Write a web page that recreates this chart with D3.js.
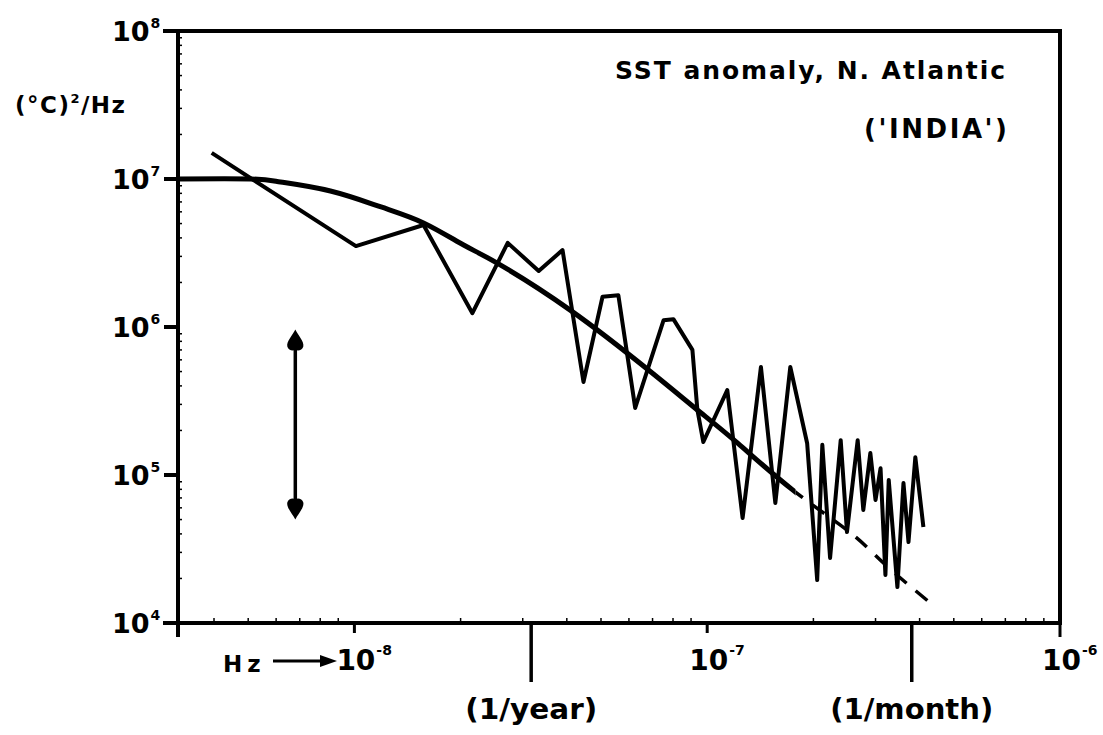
<!DOCTYPE html>
<html>
<head>
<meta charset="utf-8">
<script src="https://cdn.jsdelivr.net/npm/d3@7"></script>
<style>
  body { margin: 0; background: #fff; }
  svg text { font-family: "DejaVu Sans", "Liberation Sans", sans-serif; font-weight: bold; fill: #000; }
</style>
</head>
<body>
<svg id="spec" width="1103" height="735"></svg>
<script>
// observed spectrum (Hz, (degC)^2/Hz)
var freqObs = [3.94e-9, 1.01e-8, 1.57e-8, 2.16e-8, 2.72e-8, 3.33e-8, 3.89e-8, 4.46e-8, 5.05e-8, 5.60e-8,
    6.25e-8, 7.52e-8, 8.02e-8, 9.08e-8, 9.38e-8, 9.75e-8, 1.14e-7, 1.26e-7, 1.42e-7, 1.56e-7,
    1.72e-7, 1.92e-7, 2.05e-7, 2.12e-7, 2.23e-7, 2.39e-7, 2.49e-7, 2.67e-7, 2.77e-7, 2.90e-7,
    3.00e-7, 3.10e-7, 3.20e-7, 3.27e-7, 3.46e-7, 3.60e-7, 3.72e-7, 3.89e-7, 4.10e-7];
var specObs = [1.50e7, 3.52e6, 4.89e6, 1.24e6, 3.70e6, 2.39e6, 3.31e6, 4.25e5, 1.60e6, 1.64e6,
    2.84e5, 1.11e6, 1.13e6, 7.00e5, 2.75e5, 1.67e5, 3.75e5, 5.12e4, 5.37e5, 6.47e4,
    5.37e5, 1.64e5, 1.95e4, 1.60e5, 2.75e4, 1.72e5, 4.12e4, 1.72e5, 5.81e4, 1.41e5,
    6.78e4, 1.11e5, 2.11e4, 9.25e4, 1.75e4, 8.83e4, 3.52e4, 1.32e5, 4.46e4];

// model (red noise) curve, drawn solid up to solidEnd Hz, dashed after
var freqModel = [3.17e-9, 5.07e-9, 6.17e-9, 8.55e-9, 1.19e-8, 1.57e-8, 2.04e-8, 2.54e-8, 4.09e-8, 6.90e-8,
    9.38e-8, 1.22e-7, 1.75e-7, 2.55e-7, 3.16e-7, 4.30e-7];
var specModel = [1.0e7, 1.0e7, 9.55e6, 8.30e6, 6.47e6, 5.05e6, 3.58e6, 2.70e6, 1.30e6, 5.0e5,
    2.75e5, 1.64e5, 7.9e4, 4.06e4, 2.54e4, 1.36e4];
var solidEnd = 1.78e-7;

// confidence interval arrow
var errFreq = 6.8e-9;
var errRange = [9.6e5, 5.0e4];

var yMajor = [1e4, 1e5, 1e6, 1e7, 1e8];
var yExp = ["4", "5", "6", "7", "8"];
var xMajor = [1e-8, 1e-7, 1e-6];
var xExp = ["-8", "-7", "-6"];
var periodTicks = [3.17e-8, 3.8e-7];
var periodLabels = ["(1/year)", "(1/month)"];
var periodWidths = [132, 163];

var svg = d3.select("#spec");

var x = d3.scaleLog().domain([Math.pow(10, -8.5), 1e-6]).range([178, 1060]);
var y = d3.scaleLog().domain([1e4, 1e8]).range([623, 31]);

var ink = "#000";
var g = svg.append("g");

// frame
g.append("path")
    .attr("d", "M" + 163 + "," + y(1e8) + "H" + x(1e-6) + "V" + y(1e4) + "H" + 163
        + "M" + x.range()[0] + "," + y(1e8) + "V" + (y(1e4) + 14))
    .attr("fill", "none")
    .attr("stroke", ink)
    .attr("stroke-width", 4);

// y ticks
g.selectAll(".ymaj").data(yMajor).enter().append("line")
    .attr("x1", 164).attr("x2", 178)
    .attr("y1", function (d) { return y(d); }).attr("y2", function (d) { return y(d); })
    .attr("stroke", ink).attr("stroke-width", 4);

var yMinor = y.ticks().filter(function (d) { return yMajor.indexOf(d) < 0; });
g.selectAll(".ymin").data(yMinor).enter().append("line")
    .attr("x1", 178).attr("x2", 182)
    .attr("y1", function (d) { return y(d); }).attr("y2", function (d) { return y(d); })
    .attr("stroke", ink).attr("stroke-width", 1.5);

var xMinor = x.ticks().filter(function (d) {
    var l = Math.log10(d);
    return Math.abs(l - Math.round(l)) > 1e-6;
});
g.selectAll(".xmin").data(xMinor).enter().append("line")
    .attr("x1", function (d) { return x(d); }).attr("x2", function (d) { return x(d); })
    .attr("y1", 623).attr("y2", 618)
    .attr("stroke", ink).attr("stroke-width", 1.5);

g.selectAll(".xmaj").data(xMajor).enter().append("line")
    .attr("x1", function (d) { return x(d); }).attr("x2", function (d) { return x(d); })
    .attr("y1", 623).attr("y2", function (d, i) { return i == 2 ? 637 : 633; })
    .attr("stroke", ink).attr("stroke-width", 3);

g.selectAll(".xper").data(periodTicks).enter().append("line")
    .attr("x1", function (d) { return x(d); }).attr("x2", function (d) { return x(d); })
    .attr("y1", 623).attr("y2", 682)
    .attr("stroke", ink).attr("stroke-width", 3.5);

// y labels
var yl = g.selectAll(".ylab").data(yMajor).enter().append("text")
    .attr("x", 112)
    .attr("y", function (d) { return y(d) + 10; })
    .style("font-size", "27px");
yl.append("tspan").text("10");
yl.append("tspan").text(function (d, i) { return yExp[i]; })
    .attr("dx", 1).attr("dy", -13).style("font-size", "14px");

// x labels
var xl = g.selectAll(".xlab").data(xMajor).enter().append("text")
    .attr("x", function (d) { return x(d) - 18; })
    .attr("y", 670)
    .style("font-size", "28px");
xl.append("tspan").text("10");
xl.append("tspan").text(function (d, i) { return xExp[i]; })
    .attr("dx", 1).attr("dy", -15).style("font-size", "14px");

g.selectAll(".plab").data(periodTicks).enter().append("text")
    .attr("x", function (d) { return x(d); })
    .attr("y", 719)
    .attr("text-anchor", "middle")
    .style("font-size", "28px")
    .attr("textLength", function (d, i) { return periodWidths[i]; })
    .attr("lengthAdjust", "spacingAndGlyphs")
    .text(function (d, i) { return periodLabels[i]; });

// Hz ---> label
g.append("text").attr("x", 223).attr("y", 672).style("font-size", "23px")
    .style("letter-spacing", "5px").text("Hz");
g.append("line").attr("x1", 273).attr("x2", 322).attr("y1", 661).attr("y2", 661)
    .attr("stroke", ink).attr("stroke-width", 3);
g.append("path").attr("d", "M337,661L320,655L320,667Z").attr("fill", ink);

// axis title
var yt = g.append("text").attr("x", 15).attr("y", 113).style("font-size", "23px")
    .style("letter-spacing", "1.5px");
yt.append("tspan").text("(°C)");
yt.append("tspan").text("2").attr("dy", -10).style("font-size", "13px");
yt.append("tspan").text("/Hz").attr("dy", 10);

// panel title
g.append("text").attr("x", 1005).attr("y", 79).attr("text-anchor", "end")
    .style("font-size", "25px").attr("textLength", 390).attr("lengthAdjust", "spacing")
    .text("SST anomaly, N. Atlantic");
g.append("text").attr("x", 1007).attr("y", 138).attr("text-anchor", "end")
    .style("font-size", "26px").attr("textLength", 143).attr("lengthAdjust", "spacing")
    .text("('INDIA')");

// data lines
var line = d3.line()
    .x(function (d) { return x(d[0]); })
    .y(function (d) { return y(d[1]); });

var obs = d3.zip(freqObs, specObs);
g.append("path").datum(obs)
    .attr("d", line)
    .attr("fill", "none").attr("stroke", ink)
    .attr("stroke-width", 4).attr("stroke-linejoin", "round");

var model = d3.zip(freqModel, specModel);
var smooth = d3.line()
    .x(function (d) { return x(d[0]); })
    .y(function (d) { return y(d[1]); })
    .curve(d3.curveNatural);

var defs = svg.append("defs");
defs.append("clipPath").attr("id", "clipSolid").append("rect")
    .attr("x", 0).attr("y", 0).attr("width", x(solidEnd)).attr("height", 735);
defs.append("clipPath").attr("id", "clipDash").append("rect")
    .attr("x", x(solidEnd)).attr("y", 0).attr("width", 1103 - x(solidEnd)).attr("height", 735);

g.append("path").datum(model)
    .attr("d", smooth)
    .attr("clip-path", "url(#clipSolid)")
    .attr("fill", "none").attr("stroke", ink).attr("stroke-width", 5);
g.append("path").datum(model)
    .attr("d", smooth)
    .attr("clip-path", "url(#clipDash)")
    .attr("fill", "none").attr("stroke", ink).attr("stroke-width", 3.5)
    .attr("stroke-dasharray", "15,12").attr("stroke-dashoffset", -4);

// confidence arrow
var ex = x(errFreq), eTop = y(errRange[0]), eBot = y(errRange[1]);
g.append("line").attr("x1", ex).attr("x2", ex).attr("y1", eTop + 10).attr("y2", eBot - 10)
    .attr("stroke", ink).attr("stroke-width", 3.5);
function drop(tipY, dir) {
    return "M" + ex + "," + tipY
        + "C" + (ex + 3) + "," + (tipY + dir * 6) + " " + (ex + 9) + "," + (tipY + dir * 12) + " " + (ex + 8) + "," + (tipY + dir * 17)
        + "C" + (ex + 7) + "," + (tipY + dir * 21) + " " + (ex + 2) + "," + (tipY + dir * 22) + " " + ex + "," + (tipY + dir * 20)
        + "C" + (ex - 2) + "," + (tipY + dir * 22) + " " + (ex - 7) + "," + (tipY + dir * 21) + " " + (ex - 8) + "," + (tipY + dir * 17)
        + "C" + (ex - 9) + "," + (tipY + dir * 12) + " " + (ex - 3) + "," + (tipY + dir * 6) + " " + ex + "," + tipY + "Z";
}
g.append("path").attr("d", drop(eTop, 1)).attr("fill", ink);
g.append("path").attr("d", drop(eBot, -1)).attr("fill", ink);
</script>
</body>
</html>
